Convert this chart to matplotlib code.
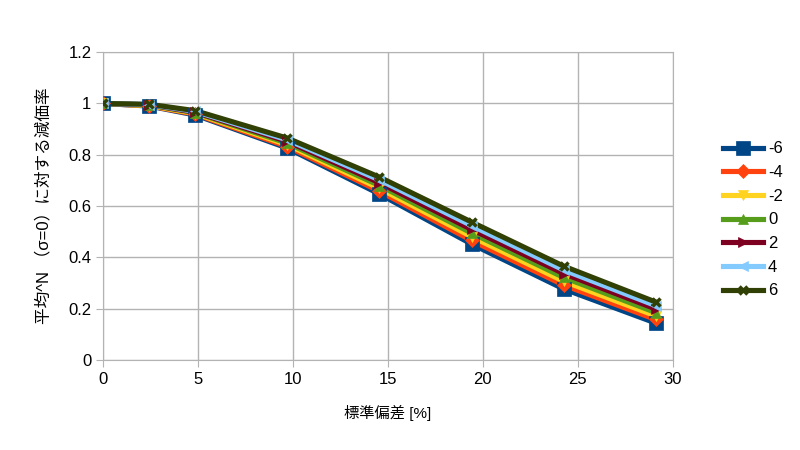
import numpy as np
import matplotlib
matplotlib.use('Agg')
import matplotlib.pyplot as plt

plt.rcParams['font.family'] = ['Liberation Sans', 'Noto Sans CJK JP', 'DejaVu Sans']

# 標準偏差 [%]
sigma = [0, 2.42, 4.85, 9.7, 14.55, 19.4, 24.25, 29.1]
labels = ['-6', '-4', '-2', '0', '2', '4', '6']

s_m6 = [1.0, 0.990, 0.955, 0.826, 0.647, 0.452, 0.277, 0.144]
s_m4 = [1.0, 0.991, 0.958, 0.832, 0.658, 0.466, 0.292, 0.158]
s_m2 = [1.0, 0.992, 0.961, 0.839, 0.669, 0.481, 0.307, 0.172]
s_0 = [1.0, 0.994, 0.964, 0.845, 0.680, 0.495, 0.322, 0.185]
s_2 = [1.0, 0.995, 0.966, 0.852, 0.691, 0.509, 0.337, 0.199]
s_4 = [1.0, 0.996, 0.969, 0.858, 0.702, 0.524, 0.351, 0.212]
s_6 = [1.0, 0.997, 0.972, 0.865, 0.713, 0.538, 0.366, 0.226]
series = [s_m6, s_m4, s_m2, s_0, s_2, s_4, s_6]

colors = ['#004586', '#ff420e', '#ffd320', '#579d1c', '#7e0021', '#83caff', '#314004']
markers = ['s', 'D', 'v', '^', '>', '<', 'x']
msizes = [10, 7, 7, 7, 7, 7, 6]

fig = plt.figure(figsize=(8, 4.5), dpi=100)
fig.patch.set_facecolor('white')
ax = fig.add_axes([0.129, 0.2, 0.712, 0.684])

# lines first, markers on top (like the spreadsheet renderer)
for vals, c in zip(series, colors):
    ax.plot(sigma, vals, color=c, linewidth=3.7, zorder=2)
for vals, lab, c, m, ms in zip(series, labels, colors, markers, msizes):
    ax.plot(sigma, vals, color=c, marker=m, markersize=ms, linestyle='none',
            markeredgewidth=2.5 if m == 'x' else 0.5, markeredgecolor=c,
            zorder=3)
    # legend handle
    ax.plot([], [], color=c, marker=m, markersize=ms, linewidth=3.7,
            markeredgewidth=2.5 if m == 'x' else 0.5, markeredgecolor=c,
            label=lab)

ax.set_xlim(0, 30)
ax.set_ylim(0, 1.2)
ax.set_xticks(np.arange(0, 31, 5))
ax.set_yticks(np.arange(0, 1.21, 0.2))
ax.set_yticklabels(['0', '0.2', '0.4', '0.6', '0.8', '1', '1.2'])
ax.tick_params(labelsize=12, length=5, color='#b3b3b3', direction='out')
ax.grid(True, color='#b3b3b3', linewidth=1)
ax.set_axisbelow(True)
for sp in ax.spines.values():
    sp.set_color('#b3b3b3')

ax.set_xlabel('標準偏差 [%]', fontsize=11, labelpad=13)
ax.set_ylabel('平均^N （σ=0）に対する減価率', fontsize=12, labelpad=12)

ax.legend(loc='center left', bbox_to_anchor=(1.062, 0.455), frameon=False,
          fontsize=12, handlelength=2.4, labelspacing=0.52, handletextpad=0.3)

fig.savefig('out.png', dpi=100, facecolor='white')
